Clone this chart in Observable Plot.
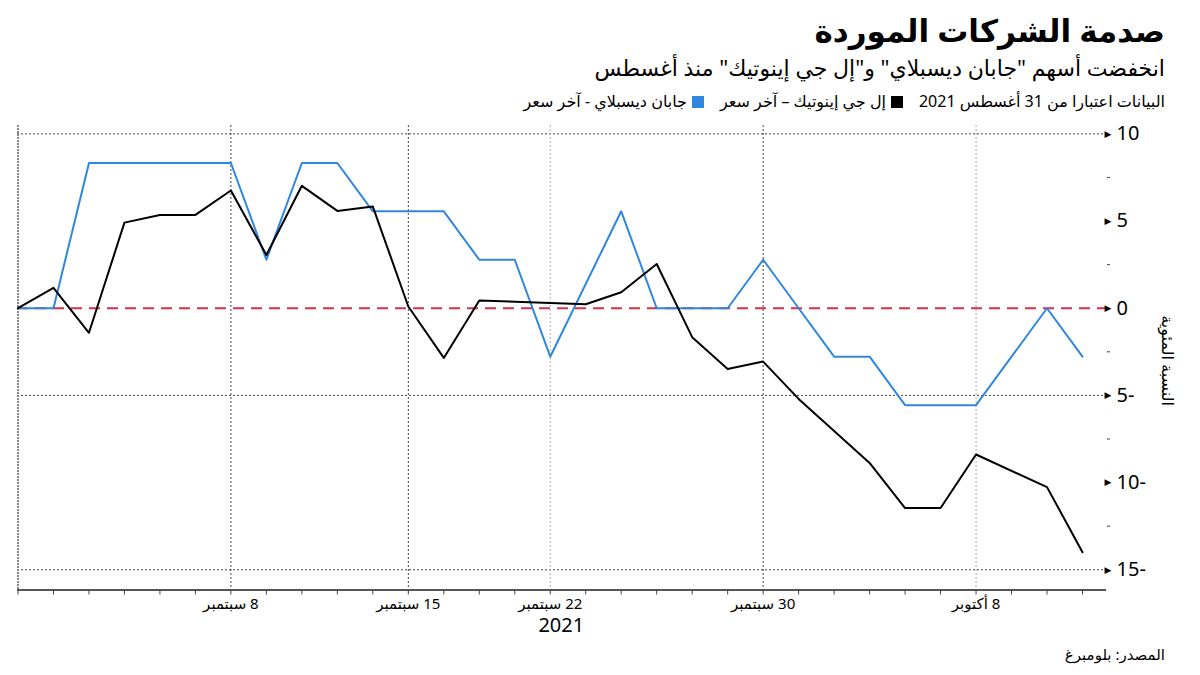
<!DOCTYPE html>
<html lang="ar">
<head>
<meta charset="utf-8">
<script src="https://cdn.jsdelivr.net/npm/d3@7"></script>
<script src="https://cdn.jsdelivr.net/npm/@observablehq/plot@0.6"></script>
<style>
  html, body { margin: 0; padding: 0; background: #fff; }
  body { width: 1200px; height: 675px; position: relative; overflow: hidden;
         font-family: "Noto Sans", "DejaVu Sans", sans-serif; color: #000; }
  .hdr { position: absolute; right: 35px; direction: rtl; text-align: right; white-space: nowrap; }
  #title { top: 9px; font-size: 31px; font-weight: 700; line-height: 42px; }
  #subtitle { top: 52px; font-size: 22px; line-height: 30px; }
  #legend { top: 90px; font-size: 16px; line-height: 22px; }
  #legend .sw { display: inline-block; width: 12px; height: 12px; vertical-align: -1px; margin-left: 5px; }
  #legend .gap { display: inline-block; width: 16px; }
  #chart { position: absolute; left: 0; top: 115px; }
  #source { position: absolute; right: 35px; top: 644px; font-size: 15px; direction: rtl; white-space: nowrap; }
  .xlab text { direction: rtl; }
</style>
</head>
<body>
<div id="title" class="hdr">صدمة الشركات الموردة</div>
<div id="subtitle" class="hdr">انخفضت أسهم "جابان ديسبلاي" و"إل جي إينوتيك"  منذ أغسطس</div>
<div id="legend" class="hdr"></div>
<div id="chart"></div>
<div id="source">المصدر: بلومبرغ</div>
<script>
// ---- data ----
const dates = [
  "2021-08-31","2021-09-01","2021-09-02","2021-09-03","2021-09-06","2021-09-07","2021-09-08",
  "2021-09-09","2021-09-10","2021-09-13","2021-09-14","2021-09-15","2021-09-16","2021-09-17",
  "2021-09-21","2021-09-22","2021-09-23","2021-09-24","2021-09-27","2021-09-28","2021-09-29",
  "2021-09-30","2021-10-01","2021-10-04","2021-10-05","2021-10-06","2021-10-07","2021-10-08",
  "2021-10-11","2021-10-12","2021-10-13"
];
// Japan Display - last price, % change since 31 Aug 2021 (null = market closed)
const japanDisplay = [0, 0, 8.33, 8.33, 8.33, 8.33, 8.33, 2.78, 8.33, 8.33, 5.56, 5.56, 5.56, 2.78,
  2.78, -2.78, null, 5.56, 0, 0, 0, 2.78, 0, -2.78, -2.78, -5.56, -5.56, -5.56, -2.78, 0, -2.78];
// LG Innotek - last price, % change since 31 Aug 2021 (null = market closed)
const lgInnotek = [0, 1.17, -1.41, 4.91, 5.35, 5.35, 6.75, 3.05, 7.02, 5.58, 5.83, 0.1, -2.85, 0.44,
  null, null, 0.23, 0.92, 2.54, -1.66, -3.48, -3.06, -5.2, null, -8.87, -11.46, -11.46, -8.39, null, -10.26, -13.99];

const seriesNames = ["جابان ديسبلاي  - آخر سعر", "إل جي إينوتيك – آخر سعر"];
const seriesColors = ["#2f87de", "#000000"];
const legendNote = "البيانات اعتبارا من 31 أغسطس 2021";

const xTickDates = ["2021-09-08", "2021-09-15", "2021-09-22", "2021-09-30", "2021-10-08"];
const xTickLabels = ["8 سبتمبر", "15 سبتمبر", "22 سبتمبر", "30 سبتمبر", "8 أكتوبر"];
const darkGridDates = ["2021-09-08", "2021-09-15", "2021-09-30"];
const lightGridDates = ["2021-09-22", "2021-10-08"];
const yearLabel = "2021";
const yearLabelDate = "2021-09-22";

const yMajorTicks = [10, 5, 0, -5, -10, -15];
const yMinorTicks = [7.5, 2.5, -2.5, -7.5, -12.5];
const yGridLines = [10, -5, -15];
const yTitle = "النسبة المئوية";
const yDomain = [-16.16, 10.48];

// ---- build ----
const rows = [];
dates.forEach((d, i) => {
  if (japanDisplay[i] != null) rows.push({date: d, value: japanDisplay[i], series: seriesNames[0]});
});
dates.forEach((d, i) => {
  if (lgInnotek[i] != null) rows.push({date: d, value: lgInnotek[i], series: seriesNames[1]});
});

const legend = document.getElementById("legend");
legend.innerHTML =
  `<span>${legendNote}</span><span class="gap"></span>` +
  `<span class="sw" style="background:${seriesColors[1]}"></span><span>${seriesNames[1]}</span><span class="gap"></span>` +
  `<span class="sw" style="background:${seriesColors[0]}"></span><span>${seriesNames[0]}</span>`;

const labelOf = new Map(xTickDates.map((d, i) => [d, xTickLabels[i]]));
const fmtY = d => d < 0 ? `${-d}-` : `${d}`;

const chart = Plot.plot({
  width: 1200,
  height: 560,
  marginTop: 10,
  marginBottom: 85.5,
  marginLeft: 17,
  marginRight: 94,
  style: {fontFamily: '"Noto Sans", "DejaVu Sans", sans-serif', color: "#000", background: "transparent", overflow: "visible"},
  x: {type: "point", domain: dates, range: [17.5, 1082], padding: 0, round: false, label: null},
  y: {domain: yDomain, label: null},
  color: {domain: seriesNames, range: seriesColors},
  marks: [
    Plot.ruleY(yGridLines, {stroke: "#444", strokeWidth: 1, strokeDasharray: "2,2"}),
    Plot.ruleX(darkGridDates, {stroke: "#444", strokeWidth: 1, strokeDasharray: "2,2"}),
    Plot.ruleX(lightGridDates, {stroke: "#aaa", strokeWidth: 1, strokeDasharray: "2,2"}),
    Plot.ruleX([dates[0]], {stroke: "#888", strokeWidth: 2, strokeDasharray: "2,1"}),
    Plot.ruleY([0], {stroke: "#d7304a", strokeWidth: 2, strokeDasharray: "11,7"}),
    Plot.line(rows, {x: "date", y: "value", z: "series", stroke: "series", strokeWidth: 2}),
    // bottom axis
    Plot.ruleY([yDomain[0]], {stroke: "#555", strokeWidth: 2}),
    Plot.axisX({ticks: dates, tickSize: 5, tickFormat: () => "", stroke: "#444", label: null}),
    Plot.axisX({ticks: xTickDates, tickSize: 0, tickPadding: 8, tickFormat: d => labelOf.get(d),
                fontSize: 15, fill: "#000", className: "xlab", label: null}),
    Plot.text([yearLabel], {x: () => yearLabelDate, frameAnchor: "bottom", dy: 42, dx: 11,
                fontSize: 20, fill: "#000", text: d => d}),
    // right axis
    Plot.axisY({anchor: "right", ticks: yMinorTicks, tickSize: 3, tickFormat: () => "", stroke: "#444", line: true, label: null}),
    Plot.axisY({anchor: "right", ticks: yMajorTicks, tickSize: 0, tickPadding: 10, tickFormat: fmtY,
                fontSize: 20, fill: "#000", label: null}),
    Plot.text(yMajorTicks, {y: d => d, frameAnchor: "right", dx: 5, text: () => "▶", fontSize: 9, fill: "#000"}),
    Plot.text([yTitle], {frameAnchor: "right", textAnchor: "middle", y: () => -3, dx: 61, rotate: 90,
                fontSize: 16, fill: "#000", text: d => d})
  ]
});
document.getElementById("chart").appendChild(chart);
</script>
</body>
</html>
